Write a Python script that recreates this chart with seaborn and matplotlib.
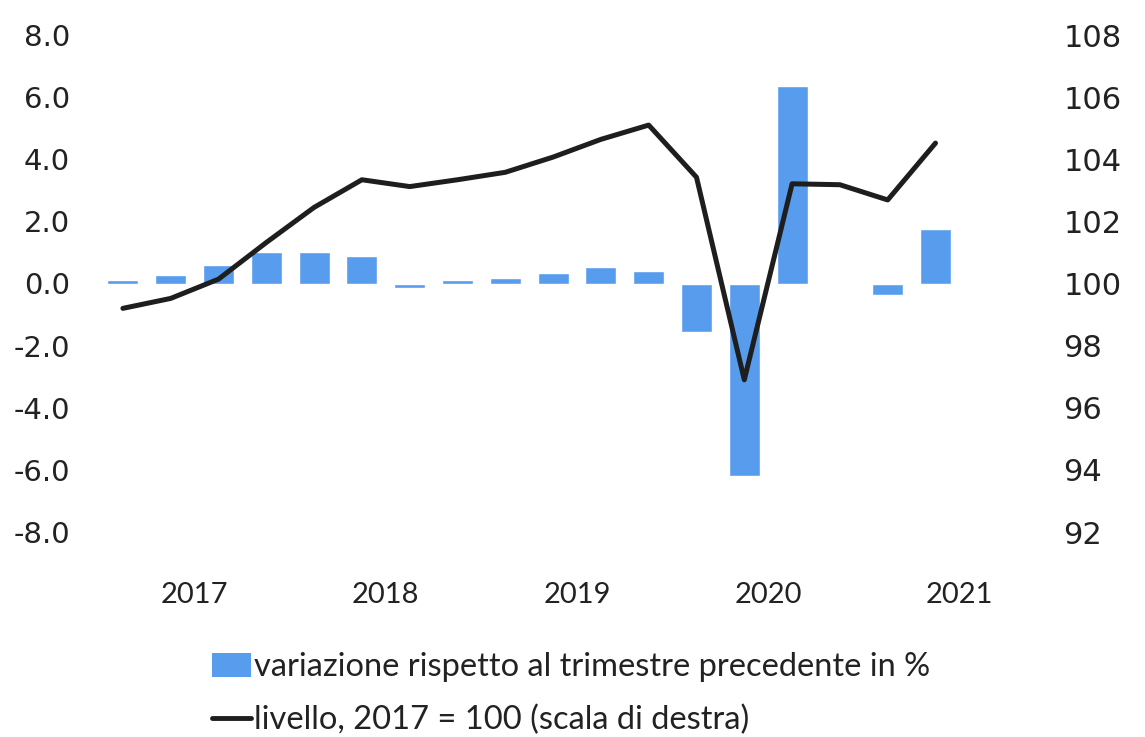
import matplotlib
matplotlib.use("Agg")
import matplotlib.pyplot as plt
import seaborn as sns
import pandas as pd
from matplotlib.patches import Patch
from matplotlib.lines import Line2D

# quarterly data 2017Q1 - 2021Q2
quarters = ["2017Q1", "2017Q2", "2017Q3", "2017Q4",
            "2018Q1", "2018Q2", "2018Q3", "2018Q4",
            "2019Q1", "2019Q2", "2019Q3", "2019Q4",
            "2020Q1", "2020Q2", "2020Q3", "2020Q4",
            "2021Q1", "2021Q2"]
change_pct = [0.1, 0.27, 0.6, 1.02, 1.02, 0.88, -0.15, 0.12, 0.18, 0.34,
              0.52, 0.4, -1.57, -6.2, 6.35, -0.03, -0.38, 1.77]
level = [99.2, 99.52, 100.14, 101.32, 102.45, 103.34, 103.12, 103.34, 103.58,
         104.07, 104.64, 105.1, 103.42, 96.9, 103.21, 103.18, 102.69, 104.52]
years = ["2017", "2018", "2019", "2020", "2021"]

bar_label = "variazione rispetto al trimestre precedente in %"
line_label = "livello, 2017 = 100 (scala di destra)"

BLUE = "#589CEE"
TXT = "#222222"

df = pd.DataFrame({"quarter": quarters, "change": change_pct, "level": level})
df["pos"] = range(len(df))

sns.set_theme(style="white")
plt.rcParams["font.family"] = ["DejaVu Sans"]

fig = plt.figure(figsize=(11.45, 7.37), dpi=100)
ax = fig.add_axes([99 / 1145, 1 - 532 / 737, (1055 - 99) / 1145, (532 - 35) / 737])

sns.barplot(data=df, x="pos", y="change", color=BLUE, width=0.65,
            saturation=1, ax=ax)
ax2 = ax.twinx()
sns.lineplot(data=df, x="pos", y="level", color="#1e1e1e", linewidth=3.6, ax=ax2)

ax.set_xlim(-0.5, 19.5)
ax.set_ylim(-8, 8)
ax2.set_ylim(92, 108)
ax.set_yticks(range(-8, 9, 2))
ax.set_yticklabels([f"{v:.1f}" for v in range(-8, 9, 2)],
                   fontfamily="DejaVu Sans", fontsize=21, color=TXT)
ax2.set_yticks(range(92, 109, 2))
ax2.set_yticklabels([str(v) for v in range(92, 109, 2)],
                    fontfamily="DejaVu Sans", fontsize=22, color=TXT)

# year labels centred on the four quarters of each year
ax.set_xticks([4 * i + 1.5 for i in range(len(years))])
ax.set_xticklabels(years, fontfamily="Lato", fontsize=21, color=TXT)

for a in (ax, ax2):
    for s in a.spines.values():
        s.set_visible(False)
    a.set_xlabel("")
    a.set_ylabel("")
    a.grid(False)
ax.tick_params(axis="y", length=0, pad=21)
ax.tick_params(axis="x", length=0, pad=36)
ax2.tick_params(axis="y", length=0, pad=6)

handles = [Patch(facecolor=BLUE, edgecolor="none"),
           Line2D([0], [0], color="#1e1e1e", linewidth=3.5)]
fig.legend(handles, [bar_label, line_label], loc="upper left",
           bbox_to_anchor=(212 / 1145, 1 - 652 / 737), frameon=False,
           prop={"family": "Lato", "size": 23.5}, labelcolor=TXT,
           handlelength=1.2, handleheight=0.75, handletextpad=0.1,
           labelspacing=0.7, borderpad=0, borderaxespad=0)

fig.savefig("out.png", dpi=100, facecolor="white")
